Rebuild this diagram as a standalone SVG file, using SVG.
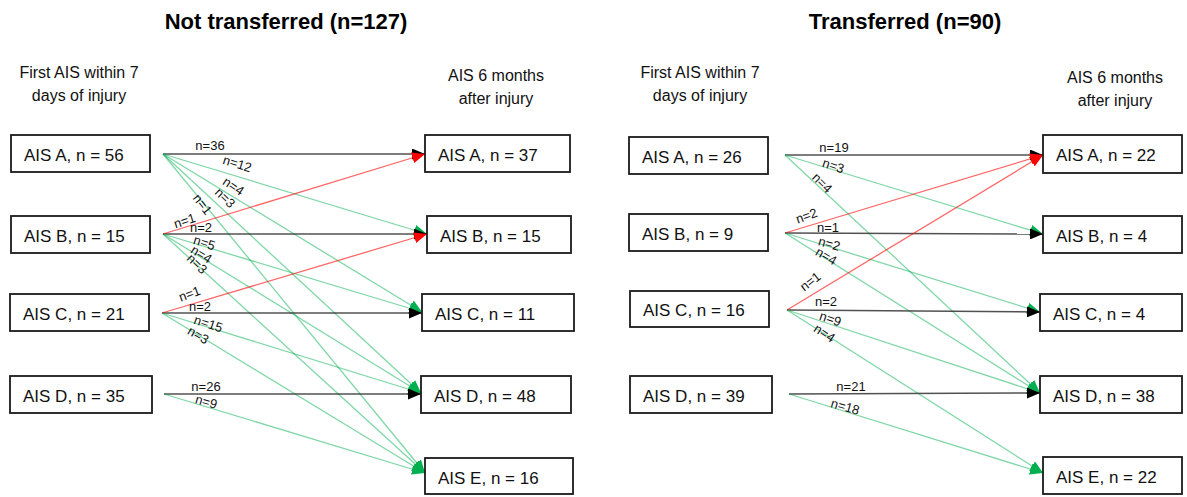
<svg xmlns="http://www.w3.org/2000/svg" width="1187" height="497" viewBox="0 0 1187 497">
<style>
.title{font-family:"Liberation Sans",Arial,sans-serif;font-weight:bold;font-size:22px;fill:#000;text-anchor:middle}
.sub{font-family:"Liberation Sans",Arial,sans-serif;font-size:16px;fill:#111;text-anchor:middle}
.box rect{fill:#fff;stroke:#1a1a1a;stroke-width:1.8}
.box text{font-family:"Liberation Sans",Arial,sans-serif;font-size:17px;fill:#111}
.lbl{font-family:"Liberation Sans",Arial,sans-serif;font-size:13px;fill:#111;text-anchor:middle}
.g{stroke:#00b050;stroke-opacity:0.5;stroke-width:1.3;fill:none}
.r{stroke:#ff0000;stroke-opacity:0.6;stroke-width:1.3;fill:none}
.k{stroke:#333;stroke-opacity:0.85;stroke-width:1.5;fill:none}
</style>
<defs>
<marker id="ag" viewBox="0 0 13 11" refX="13" refY="5.5" markerWidth="13" markerHeight="11" orient="auto" markerUnits="userSpaceOnUse"><path d="M0,0 L13,5.5 L0,11 z" fill="#00b050"/></marker>
<marker id="ar" viewBox="0 0 13 11" refX="13" refY="5.5" markerWidth="13" markerHeight="11" orient="auto" markerUnits="userSpaceOnUse"><path d="M0,0 L13,5.5 L0,11 z" fill="#ff0000"/></marker>
<marker id="ak" viewBox="0 0 13 11" refX="13" refY="5.5" markerWidth="13" markerHeight="11" orient="auto" markerUnits="userSpaceOnUse"><path d="M0,0 L13,5.5 L0,11 z" fill="#000"/></marker>
</defs>
<rect width="1187" height="497" fill="#fff"/>

<text class="title" x="286" y="29">Not transferred (n=127)</text>
<text class="title" x="905" y="29">Transferred (n=90)</text>
<text class="sub" x="79" y="78">First AIS within 7</text>
<text class="sub" x="79" y="101">days of injury</text>
<text class="sub" x="496" y="81">AIS 6 months</text>
<text class="sub" x="496" y="104">after injury</text>
<text class="sub" x="700" y="78">First AIS within 7</text>
<text class="sub" x="700" y="101">days of injury</text>
<text class="sub" x="1115" y="83">AIS 6 months</text>
<text class="sub" x="1115" y="106">after injury</text>

<g id="connectors">
<!-- left panel -->
<line class="k" x1="163" y1="154" x2="425" y2="154" marker-end="url(#ak)"/>
<line class="g" x1="163" y1="154" x2="427" y2="234" marker-end="url(#ag)"/>
<line class="g" x1="163" y1="154" x2="422" y2="312" marker-end="url(#ag)"/>
<line class="g" x1="163" y1="154" x2="421" y2="393" marker-end="url(#ag)"/>
<line class="g" x1="163" y1="154" x2="425" y2="473" marker-end="url(#ag)"/>
<line class="k" x1="163" y1="234" x2="427" y2="234" marker-end="url(#ak)"/>
<line class="g" x1="163" y1="234" x2="422" y2="312" marker-end="url(#ag)"/>
<line class="g" x1="163" y1="234" x2="421" y2="393" marker-end="url(#ag)"/>
<line class="g" x1="163" y1="234" x2="425" y2="473" marker-end="url(#ag)"/>
<line class="r" x1="163" y1="234" x2="425" y2="154" marker-end="url(#ar)"/>
<line class="k" x1="162" y1="313" x2="422" y2="313" marker-end="url(#ak)"/>
<line class="g" x1="162" y1="313" x2="421" y2="393" marker-end="url(#ag)"/>
<line class="g" x1="162" y1="313" x2="425" y2="473" marker-end="url(#ag)"/>
<line class="r" x1="162" y1="313" x2="427" y2="234" marker-end="url(#ar)"/>
<line class="k" x1="164" y1="394" x2="421" y2="394" marker-end="url(#ak)"/>
<line class="g" x1="164" y1="394" x2="425" y2="473" marker-end="url(#ag)"/>
<!-- right panel -->
<line class="k" x1="785" y1="155" x2="1043" y2="155" marker-end="url(#ak)"/>
<line class="g" x1="785" y1="155" x2="1043" y2="234" marker-end="url(#ag)"/>
<line class="g" x1="785" y1="155" x2="1040" y2="393" marker-end="url(#ag)"/>
<line class="k" x1="785" y1="233" x2="1043" y2="234" marker-end="url(#ak)"/>
<line class="g" x1="785" y1="233" x2="1040" y2="312" marker-end="url(#ag)"/>
<line class="g" x1="785" y1="233" x2="1040" y2="393" marker-end="url(#ag)"/>
<line class="r" x1="785" y1="233" x2="1043" y2="155" marker-end="url(#ar)"/>
<line class="k" x1="787" y1="310" x2="1040" y2="312" marker-end="url(#ak)"/>
<line class="g" x1="787" y1="310" x2="1040" y2="393" marker-end="url(#ag)"/>
<line class="g" x1="787" y1="310" x2="1043" y2="473" marker-end="url(#ag)"/>
<line class="r" x1="787" y1="310" x2="1043" y2="155" marker-end="url(#ar)"/>
<line class="k" x1="789" y1="394" x2="1040" y2="393" marker-end="url(#ak)"/>
<line class="g" x1="789" y1="394" x2="1043" y2="473" marker-end="url(#ag)"/>

<!-- labels left -->
<text class="lbl" x="210" y="150">n=36</text>
<text class="lbl" transform="translate(236,168) rotate(17)">n=12</text>
<text class="lbl" transform="translate(231,190) rotate(34)">n=4</text>
<text class="lbl" transform="translate(222,201) rotate(44)">n=3</text>
<text class="lbl" transform="translate(199,207) rotate(52)">n=1</text>
<text class="lbl" transform="translate(186,225) rotate(-18)">n=1</text>
<text class="lbl" x="201" y="232">n=2</text>
<text class="lbl" transform="translate(203,247) rotate(18)">n=5</text>
<text class="lbl" transform="translate(199,258) rotate(32)">n=4</text>
<text class="lbl" transform="translate(194,267) rotate(44)">n=3</text>
<text class="lbl" transform="translate(191,298) rotate(-20)">n=1</text>
<text class="lbl" x="200" y="311">n=2</text>
<text class="lbl" transform="translate(207,328) rotate(18)">n=15</text>
<text class="lbl" transform="translate(196,339) rotate(30)">n=3</text>
<text class="lbl" x="206" y="391">n=26</text>
<text class="lbl" transform="translate(205,406) rotate(16)">n=9</text>
<!-- labels right -->
<text class="lbl" x="834" y="152">n=19</text>
<text class="lbl" transform="translate(832,170) rotate(18)">n=3</text>
<text class="lbl" transform="translate(819,186) rotate(45)">n=4</text>
<text class="lbl" transform="translate(808,220) rotate(-20)">n=2</text>
<text class="lbl" x="828" y="232">n=1</text>
<text class="lbl" transform="translate(828,248) rotate(16)">n=2</text>
<text class="lbl" transform="translate(824,260) rotate(30)">n=4</text>
<text class="lbl" transform="translate(813,285) rotate(-38)">n=1</text>
<text class="lbl" x="826" y="306">n=2</text>
<text class="lbl" transform="translate(829,323) rotate(19)">n=9</text>
<text class="lbl" transform="translate(822,337) rotate(34)">n=4</text>
<text class="lbl" x="851" y="391">n=21</text>
<text class="lbl" transform="translate(844,411) rotate(16)">n=18</text>
</g>

<g id="L-A1" class="box"><rect x="11" y="135" width="139" height="37"/><text x="24" y="161">AIS A, n = 56</text></g>
<g id="L-B1" class="box"><rect x="11" y="216" width="139" height="37"/><text x="24" y="242">AIS B, n = 15</text></g>
<g id="L-C1" class="box"><rect x="10" y="294" width="139" height="37"/><text x="23" y="320">AIS C, n = 21</text></g>
<g id="L-D1" class="box"><rect x="10" y="376" width="142" height="37"/><text x="23" y="402">AIS D, n = 35</text></g>

<g id="L-A2" class="box"><rect x="425" y="135" width="145" height="37"/><text x="438" y="161">AIS A, n = 37</text></g>
<g id="L-B2" class="box"><rect x="427" y="216" width="144" height="37"/><text x="440" y="242">AIS B, n = 15</text></g>
<g id="L-C2" class="box"><rect x="422" y="294" width="152" height="37"/><text x="435" y="320">AIS C, n = 11</text></g>
<g id="L-D2" class="box"><rect x="421" y="376" width="150" height="37"/><text x="434" y="402">AIS D, n = 48</text></g>
<g id="L-E2" class="box"><rect x="425" y="458" width="148" height="36"/><text x="438" y="484">AIS E, n = 16</text></g>

<g id="R-A1" class="box"><rect x="629" y="137" width="139" height="37"/><text x="642" y="163">AIS A, n = 26</text></g>
<g id="R-B1" class="box"><rect x="629" y="214" width="139" height="37"/><text x="642" y="240">AIS B, n = 9</text></g>
<g id="R-C1" class="box"><rect x="630" y="291" width="139" height="36"/><text x="643" y="316">AIS C, n = 16</text></g>
<g id="R-D1" class="box"><rect x="630" y="376" width="142" height="37"/><text x="643" y="402">AIS D, n = 39</text></g>

<g id="R-A2" class="box"><rect x="1043" y="135" width="139" height="38"/><text x="1056" y="161">AIS A, n = 22</text></g>
<g id="R-B2" class="box"><rect x="1043" y="216" width="139" height="37"/><text x="1056" y="242">AIS B, n = 4</text></g>
<g id="R-C2" class="box"><rect x="1040" y="294" width="142" height="37"/><text x="1053" y="320">AIS C, n = 4</text></g>
<g id="R-D2" class="box"><rect x="1040" y="376" width="142" height="37"/><text x="1053" y="402">AIS D, n = 38</text></g>
<g id="R-E2" class="box"><rect x="1043" y="457" width="139" height="37"/><text x="1056" y="483">AIS E, n = 22</text></g>
</svg>
